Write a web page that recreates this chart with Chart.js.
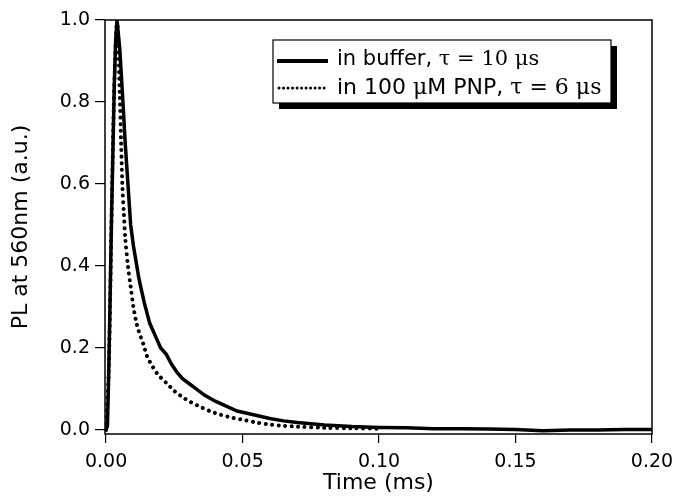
<!DOCTYPE html>
<html>
<head>
<meta charset="utf-8">
<script src="https://cdn.jsdelivr.net/npm/chart.js@4"></script>
<style>
  body { margin: 0; background: #fff; }
  #wrap { width: 673px; height: 499px; }
</style>
</head>
<body>
<div id="wrap"><canvas id="decay-chart" width="673" height="499"></canvas></div>
<script>
// Time axis (ms) and normalised PL
const bufferTime = [
  0.0000, 0.0005, 0.0010, 0.0015, 0.0020, 0.0025, 0.0030, 0.0035, 0.0040, 0.0050,
  0.0060, 0.0070, 0.0080, 0.0090, 0.0100, 0.0110, 0.0120, 0.0130, 0.0140, 0.0160,
  0.0180, 0.0200, 0.0220, 0.0240, 0.0260, 0.0280, 0.0300, 0.0330, 0.0360, 0.0400,
  0.0440, 0.0480, 0.0520, 0.0560, 0.0600, 0.0650, 0.0700, 0.0750, 0.0800, 0.0900,
  0.1000, 0.1100, 0.1200, 0.1300, 0.1400, 0.1500, 0.1600, 0.1700, 0.1800, 0.1900,
  0.2000
]
const bufferPL = [
  0.000, 0.010, 0.150, 0.330, 0.520, 0.680, 0.840, 0.950, 1.000, 0.930,
  0.820, 0.700, 0.600, 0.500, 0.450, 0.410, 0.370, 0.340, 0.310, 0.260,
  0.230, 0.200, 0.185, 0.160, 0.140, 0.125, 0.115, 0.100, 0.085, 0.070,
  0.058, 0.046, 0.040, 0.034, 0.028, 0.022, 0.018, 0.015, 0.012, 0.008,
  0.006, 0.005, 0.003, 0.003, 0.002, 0.001, -0.002, 0.000, 0.000, 0.001,
  0.001
]

const pnpTime = [
  0.0000, 0.0010, 0.0020, 0.0030, 0.0040, 0.0045, 0.0050, 0.0055, 0.0060, 0.0065,
  0.0070, 0.0080, 0.0090, 0.0100, 0.0110, 0.0120, 0.0136, 0.0150, 0.0170, 0.0190,
  0.0220, 0.0250, 0.0280, 0.0310, 0.0340, 0.0380, 0.0420, 0.0460, 0.0500, 0.0550,
  0.0600, 0.0650, 0.0700, 0.0800, 0.0900, 0.1000
]
const pnpPL = [
  0.000, 0.150, 0.520, 0.840, 1.000, 0.950, 0.820, 0.700, 0.590, 0.530,
  0.470, 0.400, 0.350, 0.300, 0.265, 0.240, 0.210, 0.180, 0.155, 0.135,
  0.115, 0.095, 0.080, 0.068, 0.058, 0.046, 0.037, 0.030, 0.025, 0.018,
  0.013, 0.010, 0.008, 0.005, 0.004, 0.003
]

const xTicks = [0, 0.05, 0.10, 0.15, 0.20]
const yTicks = [0, 0.2, 0.4, 0.6, 0.8, 1.0]

const sans = '"DejaVu Sans", Arial, sans-serif'
const serif = '"DejaVu Serif", "Times New Roman", serif'

const toPoints = (xs, ys) => xs.map((x, i) => ({ x: x, y: ys[i] }))

// frame round the plot area plus the boxed legend with its drop shadow
const framePlugin = {
  id: 'frame',
  afterDraw(chart) {
    const ctx = chart.ctx
    const a = chart.chartArea
    ctx.save()
    ctx.strokeStyle = '#000'
    ctx.lineWidth = 1.5
    ctx.strokeRect(a.left, a.top, a.right - a.left, a.bottom - a.top)

    // legend box
    const bx = 273, by = 40, bw = 338, bh = 63
    ctx.fillStyle = '#000'
    ctx.fillRect(bx + 6, by + 6, bw, bh)
    ctx.fillStyle = '#fff'
    ctx.fillRect(bx, by, bw, bh)
    ctx.lineWidth = 1.2
    ctx.strokeRect(bx, by, bw, bh)

    // samples
    ctx.lineWidth = 4
    ctx.beginPath()
    ctx.moveTo(277, 61)
    ctx.lineTo(328, 61)
    ctx.stroke()

    ctx.lineWidth = 3
    ctx.lineCap = 'round'
    ctx.setLineDash([0.01, 4.5])
    ctx.beginPath()
    ctx.moveTo(279, 88)
    ctx.lineTo(328, 88)
    ctx.stroke()
    ctx.setLineDash([])

    // text runs, mixed sans and serif
    const runs = (x, y, parts) => {
      ctx.textBaseline = 'middle'
      ctx.fillStyle = '#000'
      parts.forEach(([txt, font]) => {
        ctx.font = font
        ctx.fillText(txt, x, y)
        x += ctx.measureText(txt).width
      })
    }
    runs(337, 60, [
      ['in buffer, ', `21px ${sans}`],
      ['\u03c4 = 10 \u03bcs', `21px ${serif}`]
    ])
    runs(337, 88, [
      ['in 100 ', `22px ${sans}`],
      ['\u03bc', `22px ${serif}`],
      ['M PNP, ', `22px ${sans}`],
      ['\u03c4 = 6 \u03bcs', `22px ${serif}`]
    ])
    ctx.restore()
  }
}

const config = {
  type: 'scatter',
  data: {
    datasets: [
      {
        label: 'in buffer, \u03c4 = 10 \u03bcs',
        data: toPoints(bufferTime, bufferPL),
        showLine: true,
        borderColor: '#000',
        borderWidth: 3.5,
        pointRadius: 0,
        tension: 0
      },
      {
        label: 'in 100 \u03bcM PNP, \u03c4 = 6 \u03bcs',
        data: toPoints(pnpTime, pnpPL),
        showLine: true,
        borderColor: '#000',
        borderWidth: 4,
        borderDash: [0.01, 6.5],
        borderCapStyle: 'round',
        pointRadius: 0,
        tension: 0.3
      }
    ]
  },
  options: {
    responsive: false,
    animation: false,
    layout: { padding: { left: 0, top: 20, right: 21, bottom: 0 } },
    plugins: {
      legend: { display: false },
      tooltip: { enabled: false }
    },
    scales: {
      x: {
        type: 'linear',
        min: -0.0004,
        max: 0.2,
        afterBuildTicks: axis => { axis.ticks = xTicks.map(v => ({ value: v })) },
        afterFit: axis => {
          axis.height = 65
          axis.paddingLeft = 0
          axis.paddingRight = 0
        },
        grid: { drawOnChartArea: false, tickLength: 9, color: '#000', lineWidth: 1.2 },
        border: { display: false },
        ticks: {
          color: '#000',
          font: { family: sans, size: 19 },
          padding: 8,
          maxRotation: 0,
          callback: v => v.toFixed(2)
        },
        title: {
          display: true,
          text: 'Time (ms)',
          color: '#000',
          font: { family: sans, size: 22 },
          padding: { top: 0, bottom: 3 }
        }
      },
      y: {
        min: -0.01,
        max: 1.0,
        afterBuildTicks: axis => { axis.ticks = yTicks.map(v => ({ value: v })) },
        afterFit: axis => {
          axis.width = 105
          axis.paddingTop = 0
          axis.paddingBottom = 0
        },
        grid: { drawOnChartArea: false, tickLength: 10, color: '#000', lineWidth: 1.2 },
        border: { display: false },
        ticks: {
          color: '#000',
          font: { family: sans, size: 19 },
          padding: 5,
          callback: v => v.toFixed(1)
        },
        title: {
          display: true,
          text: 'PL at 560nm (a.u.)',
          color: '#000',
          font: { family: sans, size: 22 },
          padding: { top: 8, bottom: 0 }
        }
      }
    }
  },
  plugins: [framePlugin]
}

new Chart(document.getElementById('decay-chart'), config)
</script>
</body>
</html>
